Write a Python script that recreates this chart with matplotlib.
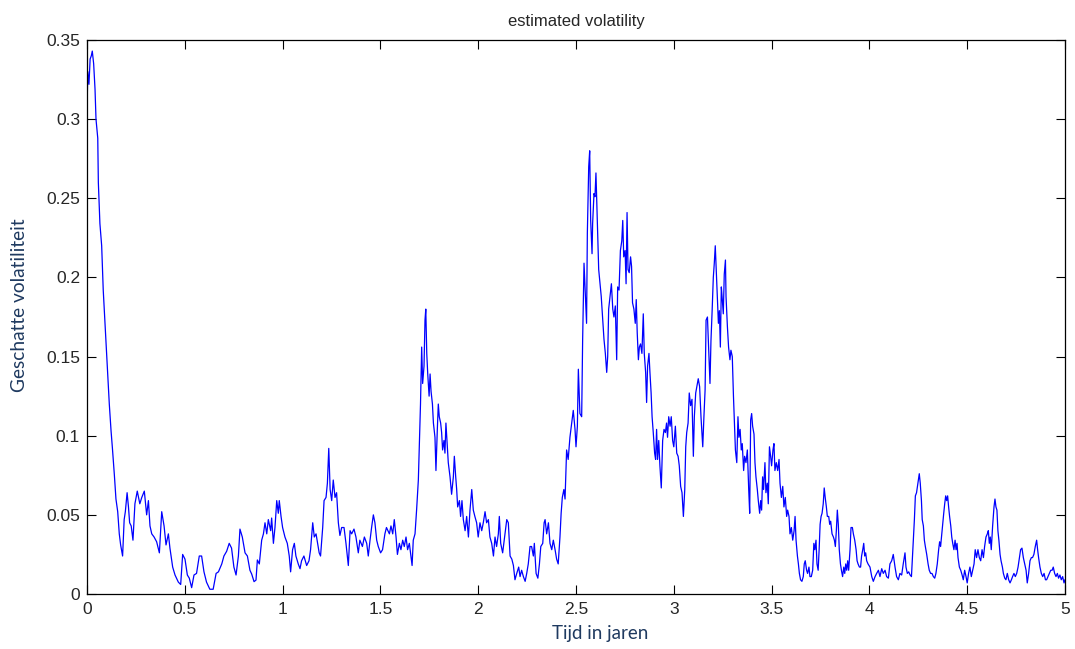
import matplotlib
matplotlib.use("Agg")
import matplotlib.pyplot as plt
from matplotlib.ticker import FuncFormatter

# ---- data ----
tijd_a = [0.0, 0.004, 0.010, 0.016, 0.022, 0.027, 0.034, 0.041, 0.046, 0.055, 0.058, 0.066, 0.075, 0.083,
          0.092, 0.104, 0.114, 0.123, 0.130, 0.140, 0.148, 0.157, 0.165, 0.172, 0.182, 0.190, 0.196, 0.205,
          0.212, 0.218, 0.226, 0.235, 0.245, 0.257, 0.270, 0.280, 0.293, 0.305, 0.314, 0.322, 0.331, 0.343,
          0.356, 0.370, 0.382, 0.394, 0.404, 0.416, 0.424, 0.438, 0.450, 0.467, 0.479, 0.489, 0.501, 0.513,
          0.523, 0.535, 0.547, 0.560, 0.574, 0.586, 0.598, 0.611, 0.628, 0.645, 0.660, 0.672, 0.689, 0.700,
          0.714, 0.727, 0.739, 0.751, 0.762, 0.774, 0.782, 0.794, 0.808, 0.820]
vol_a = [0.305, 0.330, 0.322, 0.338, 0.340, 0.343, 0.335, 0.319, 0.300, 0.288, 0.260, 0.234, 0.220, 0.192,
         0.171, 0.143, 0.120, 0.103, 0.092, 0.075, 0.060, 0.052, 0.038, 0.031, 0.024, 0.047, 0.052, 0.064,
         0.055, 0.045, 0.043, 0.034, 0.057, 0.065, 0.057, 0.061, 0.065, 0.050, 0.059, 0.043, 0.038, 0.036,
         0.033, 0.026, 0.052, 0.043, 0.031, 0.038, 0.029, 0.017, 0.012, 0.0075, 0.006, 0.025, 0.022, 0.012,
         0.010, 0.004, 0.012, 0.013, 0.024, 0.024, 0.014, 0.0075, 0.003, 0.003, 0.013, 0.014, 0.019, 0.024,
         0.027, 0.032, 0.029, 0.017, 0.012, 0.024, 0.041, 0.036, 0.026, 0.024]

tijd_b = [0.833, 0.842, 0.854, 0.864, 0.871, 0.881, 0.893, 0.902, 0.910, 0.919, 0.927, 0.939, 0.944, 0.953,
          0.961, 0.970, 0.978, 0.983, 0.992, 1.000, 1.012, 1.024, 1.034, 1.041, 1.051, 1.060, 1.068, 1.080,
          1.089, 1.097, 1.109, 1.123, 1.135, 1.143, 1.154, 1.162, 1.171, 1.179, 1.187, 1.194, 1.205, 1.212,
          1.222, 1.229, 1.236, 1.243, 1.251, 1.259, 1.268, 1.276, 1.285, 1.293, 1.302, 1.314, 1.324, 1.336,
          1.345, 1.353, 1.365, 1.375, 1.387, 1.395, 1.408, 1.418, 1.430, 1.438, 1.447, 1.455, 1.464, 1.472,
          1.481, 1.489, 1.501, 1.511, 1.523, 1.531, 1.546, 1.554, 1.563, 1.571, 1.580, 1.587, 1.597, 1.605,
          1.614, 1.622, 1.631, 1.639, 1.648, 1.656, 1.662, 1.668, 1.677, 1.685, 1.694, 1.699]
vol_b = [0.015, 0.0126, 0.0078, 0.0088, 0.0215, 0.019, 0.034, 0.038, 0.045, 0.038, 0.047, 0.040, 0.048, 0.032,
         0.042, 0.059, 0.051, 0.059, 0.049, 0.042, 0.036, 0.032, 0.024, 0.014, 0.028, 0.032, 0.024, 0.019,
         0.016, 0.021, 0.024, 0.018, 0.021, 0.028, 0.045, 0.036, 0.038, 0.032, 0.026, 0.024, 0.042, 0.059,
         0.061, 0.070, 0.092, 0.066, 0.059, 0.072, 0.061, 0.064, 0.045, 0.037, 0.042, 0.042, 0.032, 0.018,
         0.040, 0.038, 0.041, 0.036, 0.026, 0.034, 0.030, 0.036, 0.032, 0.024, 0.034, 0.042, 0.050, 0.045,
         0.034, 0.030, 0.026, 0.028, 0.038, 0.042, 0.038, 0.043, 0.038, 0.047, 0.036, 0.025, 0.032, 0.028,
         0.034, 0.030, 0.036, 0.028, 0.032, 0.024, 0.018, 0.034, 0.038, 0.053, 0.072, 0.093]

tijd_c = [1.705, 1.711, 1.716, 1.723, 1.728, 1.732, 1.737, 1.742, 1.749, 1.754, 1.759, 1.766, 1.771, 1.779,
          1.784, 1.791, 1.796, 1.801, 1.808, 1.813, 1.818, 1.825, 1.830, 1.835, 1.842, 1.847, 1.856, 1.864,
          1.873, 1.878, 1.885, 1.890, 1.895, 1.904, 1.910, 1.917, 1.924, 1.933, 1.941, 1.950, 1.958, 1.967,
          1.975, 1.983, 1.992, 2.000, 2.009, 2.018, 2.026, 2.035, 2.043, 2.052, 2.060, 2.069, 2.078, 2.086,
          2.094, 2.103, 2.108, 2.115, 2.125, 2.137, 2.146, 2.154, 2.163, 2.172, 2.180, 2.188, 2.197, 2.207,
          2.214, 2.222, 2.231, 2.240, 2.248, 2.256, 2.265, 2.273, 2.282, 2.287, 2.296, 2.305, 2.313, 2.320,
          2.330, 2.337, 2.342, 2.350, 2.359, 2.367, 2.376, 2.384, 2.393, 2.401, 2.409]
vol_c = [0.120, 0.156, 0.133, 0.144, 0.173, 0.180, 0.152, 0.139, 0.125, 0.139, 0.128, 0.120, 0.108, 0.099,
         0.078, 0.104, 0.120, 0.112, 0.108, 0.102, 0.091, 0.097, 0.089, 0.108, 0.093, 0.083, 0.074, 0.063,
         0.074, 0.087, 0.074, 0.066, 0.055, 0.059, 0.049, 0.059, 0.047, 0.040, 0.049, 0.036, 0.053, 0.066,
         0.053, 0.049, 0.045, 0.036, 0.045, 0.040, 0.045, 0.052, 0.045, 0.047, 0.036, 0.032, 0.024, 0.036,
         0.030, 0.038, 0.049, 0.032, 0.026, 0.038, 0.047, 0.045, 0.024, 0.022, 0.018, 0.009, 0.013, 0.017,
         0.011, 0.015, 0.011, 0.008, 0.013, 0.019, 0.030, 0.030, 0.024, 0.032, 0.013, 0.010, 0.019, 0.030,
         0.032, 0.045, 0.047, 0.038, 0.045, 0.032, 0.028, 0.034, 0.028, 0.022, 0.019]

tijd_d = [2.418, 2.424, 2.430, 2.438, 2.444, 2.452, 2.460, 2.469, 2.478, 2.486, 2.495, 2.500, 2.507, 2.512,
          2.520, 2.529, 2.534, 2.541, 2.546, 2.554, 2.558, 2.565, 2.570, 2.575, 2.582, 2.585, 2.592, 2.597,
          2.602, 2.609, 2.616, 2.623, 2.629, 2.636, 2.643, 2.650, 2.657, 2.662, 2.667, 2.674, 2.681, 2.688,
          2.694, 2.701, 2.708, 2.713, 2.720, 2.727, 2.734, 2.739, 2.744, 2.751, 2.756, 2.761, 2.766, 2.772,
          2.779, 2.784, 2.789, 2.796, 2.803, 2.808, 2.813, 2.819, 2.824, 2.830, 2.837, 2.844, 2.849, 2.856,
          2.861, 2.866, 2.873, 2.878, 2.884, 2.889, 2.895, 2.902, 2.907, 2.912, 2.917, 2.923, 2.929, 2.936,
          2.943, 2.950, 2.957, 2.963, 2.968, 2.974, 2.981, 2.987, 2.994, 3.000, 3.008, 3.015, 3.022, 3.028,
          3.035, 3.042, 3.049, 3.056, 3.061, 3.066, 3.073, 3.079, 3.086, 3.093, 3.100, 3.105, 3.112, 3.118,
          3.125, 3.132]
vol_d = [0.036, 0.051, 0.061, 0.066, 0.060, 0.091, 0.085, 0.099, 0.108, 0.116, 0.104, 0.093, 0.106, 0.142,
         0.114, 0.112, 0.161, 0.209, 0.194, 0.171, 0.228, 0.270, 0.280, 0.236, 0.215, 0.234, 0.253, 0.251,
         0.266, 0.236, 0.205, 0.196, 0.188, 0.175, 0.161, 0.152, 0.140, 0.150, 0.180, 0.188, 0.196, 0.180,
         0.175, 0.182, 0.148, 0.194, 0.192, 0.217, 0.223, 0.236, 0.213, 0.217, 0.196, 0.241, 0.205, 0.203,
         0.213, 0.207, 0.184, 0.180, 0.171, 0.186, 0.165, 0.148, 0.156, 0.158, 0.152, 0.177, 0.152, 0.140,
         0.121, 0.144, 0.152, 0.140, 0.127, 0.112, 0.102, 0.089, 0.085, 0.104, 0.085, 0.097, 0.081, 0.067,
         0.097, 0.104, 0.102, 0.108, 0.099, 0.112, 0.106, 0.112, 0.097, 0.093, 0.106, 0.089, 0.087, 0.081,
         0.068, 0.064, 0.049, 0.066, 0.093, 0.102, 0.108, 0.127, 0.119, 0.123, 0.087, 0.112, 0.127, 0.131,
         0.136, 0.131]

tijd_e = [3.139, 3.148, 3.154, 3.160, 3.165, 3.172, 3.178, 3.185, 3.190, 3.196, 3.202, 3.207, 3.212, 3.218,
          3.223, 3.228, 3.233, 3.238, 3.243, 3.248, 3.253, 3.258, 3.264, 3.267, 3.274, 3.280, 3.287, 3.292,
          3.299, 3.305, 3.310, 3.315, 3.322, 3.328, 3.333, 3.339, 3.345, 3.350, 3.357, 3.362, 3.369, 3.376,
          3.383, 3.388, 3.393, 3.398, 3.403, 3.410, 3.415, 3.420, 3.427, 3.432, 3.439, 3.444, 3.449, 3.454,
          3.459, 3.466, 3.471, 3.478, 3.483, 3.489, 3.495, 3.500, 3.507, 3.512, 3.517, 3.524, 3.531, 3.538,
          3.543, 3.550, 3.557, 3.563, 3.570, 3.577, 3.582, 3.589, 3.594, 3.601, 3.608, 3.615, 3.620, 3.625,
          3.632, 3.637, 3.642, 3.648, 3.655, 3.662, 3.667, 3.672, 3.679, 3.684, 3.691, 3.696, 3.703, 3.710,
          3.716, 3.721, 3.727, 3.732, 3.738, 3.743, 3.748, 3.753, 3.758, 3.764, 3.769, 3.774, 3.780, 3.785,
          3.792, 3.797, 3.802, 3.809, 3.816, 3.821, 3.826, 3.831, 3.836, 3.841, 3.846, 3.852, 3.857, 3.863,
          3.869, 3.874, 3.879, 3.884, 3.889, 3.894, 3.901, 3.906, 3.913, 3.918, 3.925, 3.932, 3.937, 3.942,
          3.949, 3.955, 3.960, 3.966, 3.971, 3.976, 3.981, 3.986, 3.993]
vol_e = [0.112, 0.093, 0.112, 0.129, 0.173, 0.175, 0.156, 0.133, 0.160, 0.179, 0.200, 0.209, 0.220, 0.202,
         0.186, 0.171, 0.179, 0.156, 0.194, 0.186, 0.177, 0.202, 0.211, 0.188, 0.169, 0.156, 0.148, 0.154,
         0.150, 0.125, 0.108, 0.091, 0.083, 0.112, 0.099, 0.104, 0.091, 0.095, 0.078, 0.087, 0.083, 0.091,
         0.066, 0.051, 0.110, 0.114, 0.106, 0.101, 0.083, 0.074, 0.066, 0.059, 0.051, 0.059, 0.053, 0.074,
         0.066, 0.083, 0.064, 0.070, 0.057, 0.093, 0.087, 0.081, 0.091, 0.095, 0.078, 0.083, 0.078, 0.085,
         0.070, 0.061, 0.068, 0.055, 0.061, 0.049, 0.053, 0.049, 0.038, 0.042, 0.034, 0.040, 0.049, 0.034,
         0.024, 0.019, 0.013, 0.009, 0.008, 0.011, 0.019, 0.021, 0.015, 0.013, 0.017, 0.011, 0.011, 0.015,
         0.032, 0.028, 0.034, 0.019, 0.015, 0.028, 0.044, 0.049, 0.051, 0.057, 0.067, 0.061, 0.055, 0.049,
         0.049, 0.044, 0.046, 0.038, 0.036, 0.034, 0.030, 0.040, 0.053, 0.044, 0.028, 0.019, 0.015, 0.011,
         0.017, 0.013, 0.019, 0.015, 0.021, 0.015, 0.028, 0.042, 0.042, 0.038, 0.034, 0.028, 0.021, 0.019,
         0.017, 0.017, 0.024, 0.028, 0.032, 0.024, 0.026, 0.021, 0.019]

tijd_f = [4.003, 4.012, 4.020, 4.029, 4.037, 4.046, 4.054, 4.063, 4.071, 4.080, 4.088, 4.097, 4.105, 4.114,
          4.122, 4.131, 4.139, 4.148, 4.156, 4.165, 4.173, 4.182, 4.187, 4.194, 4.201, 4.208, 4.215, 4.220,
          4.225, 4.230, 4.235, 4.241, 4.248, 4.255, 4.260, 4.266, 4.270, 4.276, 4.281, 4.286, 4.293, 4.300,
          4.306, 4.313, 4.320, 4.327, 4.334, 4.340, 4.347, 4.354, 4.359, 4.364, 4.370, 4.375, 4.380, 4.385,
          4.390, 4.395, 4.400, 4.405, 4.410, 4.416, 4.421, 4.426, 4.432, 4.438, 4.443, 4.448, 4.453, 4.460,
          4.467, 4.474, 4.480, 4.487, 4.494, 4.500, 4.507, 4.514, 4.521, 4.528, 4.535, 4.541, 4.548, 4.555,
          4.562, 4.569, 4.576, 4.583, 4.589, 4.596, 4.603, 4.608, 4.613, 4.618, 4.623, 4.630, 4.637, 4.642,
          4.647, 4.652, 4.657, 4.662, 4.668, 4.673, 4.680, 4.685, 4.692, 4.698, 4.705, 4.712, 4.719, 4.726,
          4.732, 4.739, 4.746, 4.753, 4.760, 4.767, 4.773, 4.780, 4.787, 4.794, 4.801, 4.807, 4.814, 4.821,
          4.828, 4.834, 4.841, 4.848, 4.855, 4.860, 4.865, 4.872, 4.879, 4.886, 4.893, 4.900, 4.906, 4.913,
          4.920, 4.927, 4.934, 4.940, 4.947, 4.954, 4.961, 4.967, 4.974, 4.981, 4.988, 4.995, 5.000]
vol_f = [0.017, 0.011, 0.008, 0.011, 0.013, 0.015, 0.011, 0.016, 0.013, 0.015, 0.011, 0.010, 0.019, 0.021,
         0.025, 0.017, 0.011, 0.009, 0.013, 0.012, 0.019, 0.026, 0.017, 0.013, 0.014, 0.012, 0.011, 0.023,
         0.034, 0.047, 0.062, 0.064, 0.070, 0.076, 0.070, 0.059, 0.047, 0.043, 0.034, 0.030, 0.025, 0.019,
         0.015, 0.013, 0.013, 0.011, 0.010, 0.013, 0.019, 0.028, 0.033, 0.030, 0.038, 0.045, 0.051, 0.057,
         0.062, 0.059, 0.062, 0.055, 0.049, 0.043, 0.036, 0.032, 0.028, 0.034, 0.028, 0.032, 0.023, 0.017,
         0.015, 0.012, 0.009, 0.015, 0.011, 0.007, 0.013, 0.017, 0.011, 0.015, 0.019, 0.028, 0.023, 0.028,
         0.023, 0.021, 0.028, 0.023, 0.030, 0.036, 0.038, 0.040, 0.032, 0.036, 0.028, 0.043, 0.055, 0.060,
         0.055, 0.053, 0.040, 0.034, 0.025, 0.021, 0.017, 0.013, 0.010, 0.009, 0.013, 0.009, 0.007, 0.009,
         0.011, 0.013, 0.011, 0.013, 0.017, 0.023, 0.028, 0.029, 0.023, 0.019, 0.015, 0.007, 0.013, 0.021,
         0.023, 0.023, 0.025, 0.030, 0.034, 0.028, 0.023, 0.017, 0.013, 0.011, 0.013, 0.009, 0.009, 0.011,
         0.013, 0.015, 0.015, 0.017, 0.013, 0.011, 0.013, 0.010, 0.012, 0.009, 0.011, 0.007, 0.009]

tijd = tijd_a + tijd_b + tijd_c + tijd_d + tijd_e + tijd_f
volatiliteit = vol_a + vol_b + vol_c + vol_d + vol_e + vol_f

x_ticks = [0, 0.5, 1, 1.5, 2, 2.5, 3, 3.5, 4, 4.5, 5]
y_ticks = [0, 0.05, 0.1, 0.15, 0.2, 0.25, 0.3, 0.35]

title_text = "estimated volatility"
x_label = "Tijd in jaren"
y_label = "Geschatte volatiliteit"

# ---- figure ----
W, H = 1075, 649
fig = plt.figure(figsize=(W / 100, H / 100), dpi=100)
ax = fig.add_axes([87 / W, 1 - 594 / H, (1065 - 87) / W, (594 - 40) / H])

ax.plot(tijd, volatiliteit, color=(0, 0, 1), linewidth=0.9)

ax.set_xlim(0, 5)
ax.set_ylim(0, 0.35)
ax.set_xticks(x_ticks)
ax.set_yticks(y_ticks)

fmt = FuncFormatter(lambda v, p: ("%g" % round(v, 4)))
ax.xaxis.set_major_formatter(fmt)
ax.yaxis.set_major_formatter(fmt)

ax.tick_params(direction="in", length=6.5, width=0.8, top=True, right=True,
               labelsize=12.5, labelcolor="#262626")
ax.tick_params(axis="y", pad=5)
ax.tick_params(axis="x", pad=6)
for lab in ax.get_xticklabels() + ax.get_yticklabels():
    lab.set_family(["Liberation Sans", "DejaVu Sans"])
for s in ax.spines.values():
    s.set_linewidth(0.9)
    s.set_color("black")

ax.set_title(title_text, fontsize=12, color="#262626",
             family=["Liberation Sans", "DejaVu Sans"], pad=10)
ax.set_xlabel(x_label, fontsize=13.5, color="#1f3a60", family=["Lato", "DejaVu Sans"])
ax.set_ylabel(y_label, fontsize=13.8, color="#1f3a60", family=["Lato", "DejaVu Sans"])
# label positions as in the reference (figure pixels -> axes fraction)
ax.xaxis.set_label_coords((600 - 87) / (1065 - 87), -(634 - 594) / (594 - 40))
ax.yaxis.set_label_coords(-(87 - 20) / (1065 - 87), (594 - 305) / (594 - 40))
ax.xaxis.label.set_verticalalignment("center")
ax.yaxis.label.set_verticalalignment("center")

fig.savefig("out.png", dpi=100, facecolor="white")
